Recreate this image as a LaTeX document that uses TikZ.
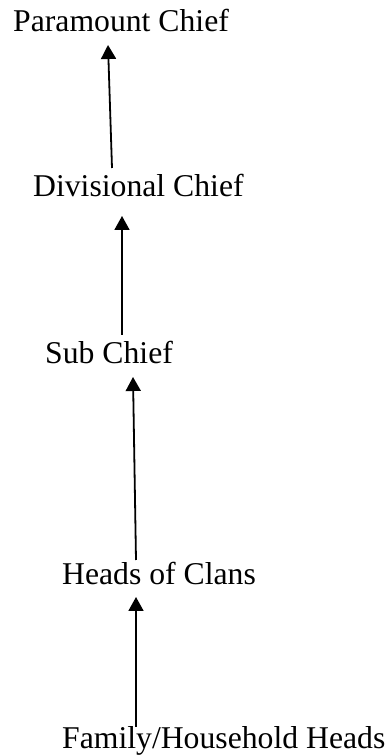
\documentclass[tikz,border=0pt]{standalone}
\usepackage{fontspec}
\setmainfont{Liberation Serif}
\usetikzlibrary{arrows.meta}
\begin{document}
\begin{tikzpicture}[x=1pt,y=1pt,
  lbl/.style={anchor=base west,inner sep=0pt,font=\fontsize{31.7}{38}\selectfont},
  arr/.style={line width=1.8pt,-{Triangle[length=14pt,width=15pt]}}]
\useasboundingbox (0,0) rectangle (388,756);
\node[lbl] (pc) at (13,724) {Paramount Chief};
\node[lbl] (dc) at (33,559) {Divisional Chief};
\node[lbl] (sc) at (45,392) {Sub Chief};
\node[lbl] (hc) at (62,171) {Heads of Clans};
\node[lbl] (fh) at (62,8) {Family/Household Heads};
\coordinate (a1s) at (112,588);
\coordinate (a1e) at (108,711);
\coordinate (a2s) at (122,421);
\coordinate (a2e) at (122,540);
\coordinate (a3s) at (136,196);
\coordinate (a3e) at (133,379);
\coordinate (a4s) at (136,29);
\coordinate (a4e) at (136,159);
\draw[arr] (a1s) -- (a1e);
\draw[arr] (a2s) -- (a2e);
\draw[arr] (a3s) -- (a3e);
\draw[arr] (a4s) -- (a4e);
\end{tikzpicture}
\end{document}
